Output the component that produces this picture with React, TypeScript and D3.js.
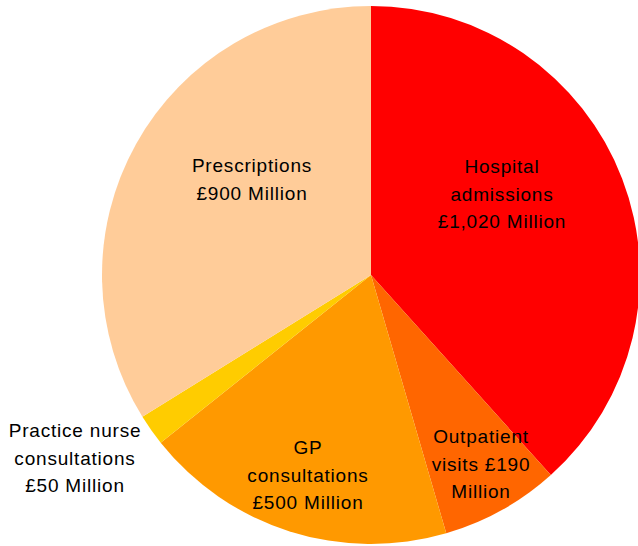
import React from "react";
import * as d3 from "d3";

const categories = ["Hospital admissions", "Outpatient visits", "GP consultations", "Practice nurse consultations", "Prescriptions"];
const values = [1020, 190, 500, 50, 900];
const colors = ["#FF0000", "#FF6600", "#FF9900", "#FFCC00", "#FFCC99"];
const labelLines = [
  ["Hospital", "admissions", "£1,020 Million"],
  ["Outpatient", "visits £190", "Million"],
  ["GP", "consultations", "£500 Million"],
  ["Practice nurse", "consultations", "£50 Million"],
  ["Prescriptions", "£900 Million"],
];
// layout: label centre (x,y of first baseline)
const labelAnchors = [
  [502, 173],
  [481, 443],
  [308, 454],
  [75, 437],
  [252, 172],
];

const W = 638, H = 546;
const cx = 371, cy = 275, R = 269;
const lineH = 27.7;

export default function App() {
  const pie = d3.pie<number>().sort(null).value((d) => d);
  const arcs = pie(values);
  const arc = d3.arc<d3.PieArcDatum<number>>().innerRadius(0).outerRadius(R);
  return (
    <svg width={W} height={H} style={{ position: "absolute", left: 0, top: 0 }}
      fontFamily="'Liberation Sans', Arial, sans-serif">
      <g transform={`translate(${cx},${cy})`}>
        {arcs.map((a, i) => (
          <path key={categories[i]} d={arc(a) || ""} fill={colors[i]} />
        ))}
      </g>
      {labelLines.map((lines, i) => (
        <text key={i} textAnchor="middle" fontSize={19} letterSpacing={0.8} fill="#000">
          {lines.map((l, j) => (
            <tspan key={j} x={labelAnchors[i][0]} y={labelAnchors[i][1] + j * lineH}>{l}</tspan>
          ))}
        </text>
      ))}
    </svg>
  );
}
